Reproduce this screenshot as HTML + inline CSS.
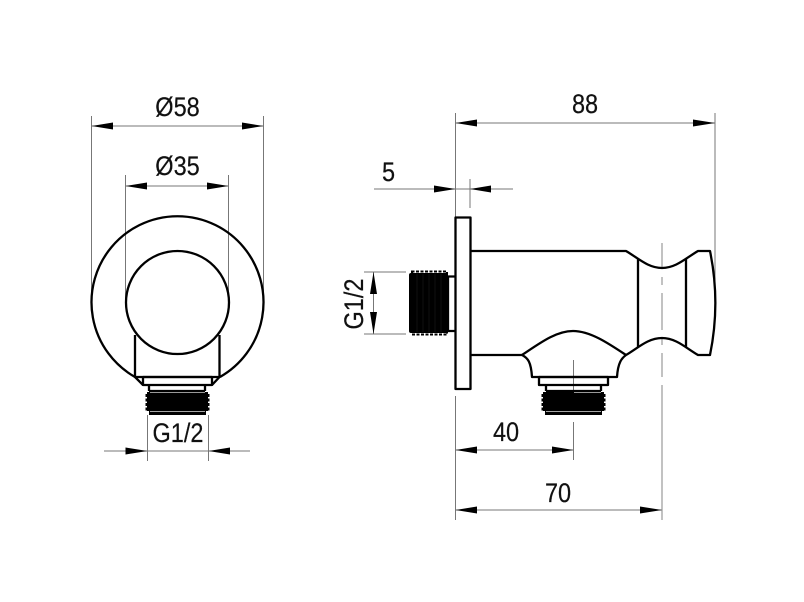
<!DOCTYPE html>
<html>
<head>
<meta charset="utf-8">
<style>
html,body{margin:0;padding:0;background:#fff;width:804px;height:602px;overflow:hidden}
svg{display:block}
text{font-family:"Liberation Sans",sans-serif;font-size:27px;fill:#111;stroke:#111;stroke-width:.2;text-anchor:middle}
.d{stroke:#777;stroke-width:1;fill:none}
.o{stroke:#000;stroke-width:2.300;fill:none;stroke-linejoin:round}
.a{fill:#000;stroke:none}
</style>
</head>
<body>
<svg width="804" height="602" viewBox="0 0 804 602" xmlns="http://www.w3.org/2000/svg">
<!-- Left view: dimensions -->
<path class="d" d="M91.5 116V300M263.5 116V300M91.5 126H263.5M125.5 175V300M228.5 175V300M125.5 186H228.5"/>
<path class="d" d="M147.5 415V461M208.5 415V461M104 451H250"/>
<path class="a" d="M91.5 126L113 122.500V129.500ZM263.5 126L242 122.500V129.500ZM125.500 186L147 182.500V189.500ZM228.500 186L207 182.500V189.500ZM147.500 451L125.500 447.500V454.500ZM208.500 451L230 447.500V454.500Z"/>
<text transform="translate(177.500,116) scale(.87,1)">Ø58</text>
<text transform="translate(177.500,175) scale(.87,1)">Ø35</text>
<text transform="translate(178,442) scale(.87,1)">G1/2</text>
<!-- Left view: part -->
<path class="o" d="M135 377A86 86 0 1 1 220 377"/>
<circle class="o" cx="177.500" cy="302.500" r="51.500"/>
<path class="o" d="M135 335V377H219.500V335M135 377L143 385M219.500 377L212 385"/>
<rect class="o" x="143" y="377" width="69" height="8" fill="#fff"/>
<path class="o" d="M149 385V391M205 385V391M149 391H205"/>
<rect class="a" x="147" y="392" width="61" height="19"/>
<path d="M146.500 394V411M208.500 394V411" stroke="#000" stroke-width="2" stroke-dasharray="3 1.500" fill="none"/>
<rect class="a" x="149" y="411" width="57" height="4"/>
<path d="M150 411.500H205" stroke="#ddd" stroke-width=".8"/>
<path d="M150 392.500H205" stroke="#ccc" stroke-width=".8"/>
<!-- Right view: dimensions -->
<path class="d" d="M455.500 113V217M455.500 396V520M715 113V303M455.500 123H715"/>
<path class="d" d="M470 179V208M374 189H513"/>
<path class="d" d="M364 272H406M364 334H406M373.500 272V334"/>
<path class="d" d="M573.500 360V391M573.500 422V460M455.500 450H573.500M455.500 510H662"/>
<path d="M662 243V268M662 277V285M662 293V330M662 338V345M662 353V377M662 385V520" stroke="#999" stroke-width="1.200" fill="none"/>
<path class="a" d="M455.500 123L477 119.500V126.500ZM715 123L693 119.500V126.500ZM455.500 189L434 185.500V192.500ZM470 189L491 185.500V192.500ZM373.500 272L370 294H377ZM373.500 334L370 312H377ZM455.500 450L477 446.500V453.500ZM573.500 450L552 446.500V453.500ZM455.500 510L477 506.500V513.500ZM662 510L640 506.500V513.500Z"/>
<text transform="translate(585,113) scale(.87,1)">88</text>
<text transform="translate(388.500,181) scale(.87,1)">5</text>
<text transform="translate(506,441) scale(.87,1)">40</text>
<text transform="translate(558,502) scale(.87,1)">70</text>
<text transform="translate(363,304) rotate(-90) scale(.87,1)">G1/2</text>
<!-- Right view: part -->
<rect class="o" x="455.500" y="217.500" width="15" height="171.500" fill="#fff"/>
<path class="o" d="M470 251H626C638 258 648 268 662 268C676 268 686 258 698 251H710C717 285 717 321 710 355H698C686 348 676 338 662 338C648 338 638 348 626 355C622 358 618 362 617 377H532C531 362 528 358 522 355H470"/>
<path class="o" d="M522 355C540 343 556 331 573 331C590 331 608 343 626 355"/>
<path class="o" d="M638 259V347M686 259V347"/>
<rect class="o" x="539" y="377" width="69" height="8" fill="#fff"/>
<path class="o" d="M546 385V391M601 385V391M546 391H601"/>
<rect class="a" x="543" y="392" width="61" height="19"/>
<path d="M542.500 394V411M604.500 394V411" stroke="#000" stroke-width="2" stroke-dasharray="3 1.500" fill="none"/>
<rect class="a" x="545" y="411" width="57" height="4"/>
<path d="M546 411.500H601" stroke="#ddd" stroke-width=".8"/>
<path d="M574 392.500H601" stroke="#ccc" stroke-width=".8"/>
<path class="o" d="M448 276.500H455M448 331H455M448 276V331"/>
<rect class="a" x="409" y="273" width="39" height="60" rx="2"/>
<path d="M412 271.500V334.500H447V271.500Z" fill="none" stroke="#000" stroke-width="2" stroke-dasharray="3 1.500"/>
<path d="M417 274V332M423 274V332M429 274V332M435 274V332M441 274V332" stroke="#222" stroke-width=".5"/>
</svg>
</body>
</html>
